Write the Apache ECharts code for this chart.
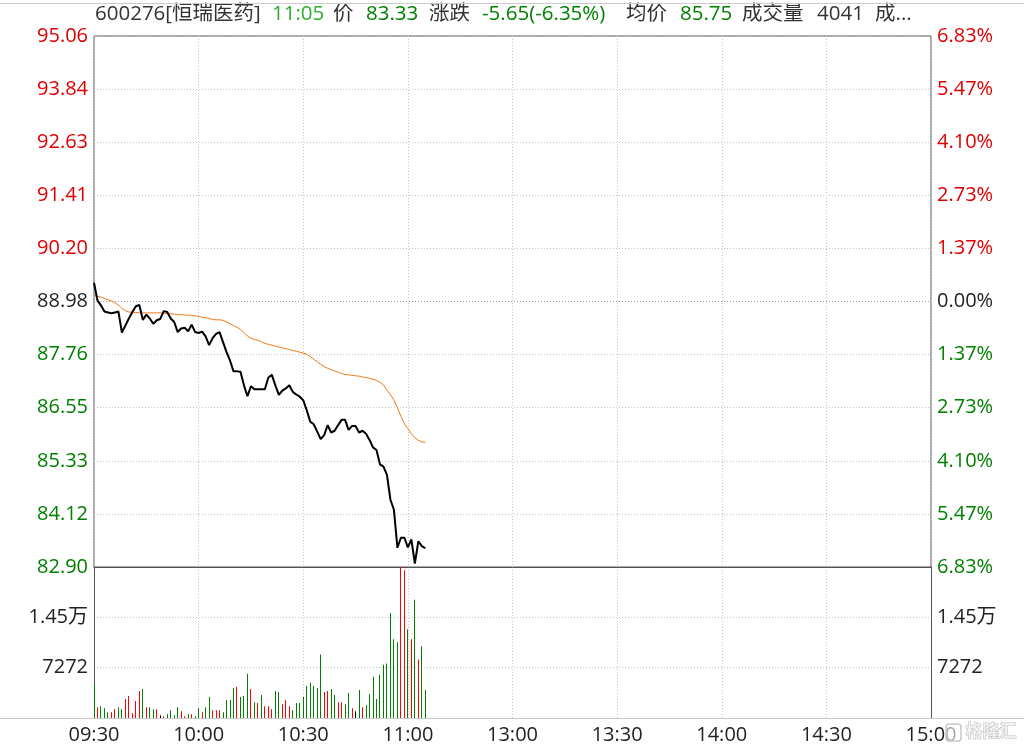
<!DOCTYPE html>
<html>
<head>
<meta charset="utf-8">
<script src="https://cdn.jsdelivr.net/npm/echarts@6/dist/echarts.min.js"></script>
<style>
html,body{margin:0;padding:0;background:#fff;}
#chart{width:1024px;height:748px;}
</style>
</head>
<body>
<div id="chart"></div>
<script>
// ---- data ----
const baseClose = 88.98;
const priceMin = 82.90;
const priceMax = 95.06;
const priceStep = 1.216;
const priceLabels = ['82.90','84.12','85.33','86.55','87.76','88.98','90.20','91.41','92.63','93.84','95.06'];
const pctLabels = ['6.83%','5.47%','4.10%','2.73%','1.37%','0.00%','1.37%','2.73%','4.10%','5.47%','6.83%'];
const volMax = 21816;
const volStep = 7272;
const volLabels = ['', '7272', '1.45万', ''];
const xTickLabels = ['09:30','10:00','10:30','11:00','13:00','13:30','14:00','14:30','15:00'];

const prices = [
 89.41,89.00,88.89,88.75,88.73,88.71,88.73,88.75,88.27,88.43,
 88.59,88.74,88.87,88.90,88.56,88.68,88.59,88.47,88.55,88.58,
 88.76,88.74,88.59,88.51,88.28,88.36,88.38,88.30,88.45,88.28,
 88.26,88.29,88.18,87.98,88.14,88.24,88.28,88.05,87.82,87.63,
 87.38,87.38,87.37,87.06,86.81,87.04,86.97,86.97,86.97,86.97,
 87.24,87.30,87.06,86.84,86.94,86.99,87.06,86.91,86.85,86.80,
 86.72,86.49,86.23,86.17,86.00,85.83,85.92,86.15,85.98,86.02,
 86.15,86.27,86.27,86.04,86.13,86.13,85.98,86.02,85.95,85.81,
 85.64,85.58,85.25,85.20,85.01,84.44,84.21,83.34,83.57,83.57,
 83.35,83.53,82.98,83.49,83.38,83.33
];
const avgPrices = [
 89.12,89.10,89.08,89.05,89.02,88.99,88.95,88.90,88.82,88.77,
 88.74,88.73,88.73,88.72,88.72,88.72,88.72,88.72,88.72,88.72,
 88.71,88.70,88.70,88.69,88.68,88.68,88.67,88.67,88.66,88.65,
 88.64,88.62,88.61,88.59,88.57,88.56,88.56,88.55,88.51,88.47,
 88.43,88.39,88.34,88.27,88.19,88.14,88.11,88.09,88.06,88.02,
 88.00,87.98,87.96,87.94,87.92,87.90,87.88,87.86,87.84,87.82,
 87.80,87.77,87.72,87.66,87.60,87.54,87.49,87.45,87.42,87.39,
 87.36,87.33,87.31,87.30,87.29,87.28,87.27,87.25,87.24,87.22,
 87.20,87.17,87.13,87.07,86.95,86.85,86.72,86.55,86.35,86.18,
 86.07,85.95,85.86,85.80,85.77,85.75
];
const volumes = [
 4780,1560,1710,1415,830,830,1270,1560,1270,2730,
 3170,680,2440,3900,4200,1560,1560,1270,1270,390,
 240,540,1120,390,1560,980,240,540,540,240,
 1415,830,1560,3030,1120,1120,1120,830,2590,2590,
 4340,4490,3030,3170,6390,4200,2290,2150,3320,1710,
 1710,1270,3900,3760,2000,2590,1710,1120,2150,2150,
 3030,4640,5080,4640,4340,9170,3760,3900,4200,3320,
 2290,2290,2000,3610,1415,980,4050,1560,1850,3460,
 5950,2730,6250,7710,7860,15180,11370,10930,21800,21330,
 12830,11370,17080,8440,10350,4041
];
// 1 = up (red), -1 = down (green), 0 = flat
const volDirs = [
 -1,1,-1,-1,-1,1,1,-1,-1,1,
 1,1,1,1,-1,1,-1,-1,1,0,
 1,-1,-1,-1,-1,1,1,-1,1,-1,
 -1,1,-1,-1,1,1,1,-1,-1,-1,
 -1,1,-1,-1,-1,1,-1,1,-1,1,
 1,1,-1,-1,1,1,1,-1,-1,-1,
 -1,-1,-1,-1,-1,-1,1,1,-1,-1,
 1,1,-1,-1,1,0,-1,1,-1,-1,
 -1,-1,-1,-1,-1,-1,-1,-1,1,1,
 -1,1,-1,1,-1,-1
];

// minute categories: 09:30..11:30 (=13:00) then 13:01..15:00
const categories = [];
function pad(n){return (n<10?'0':'')+n;}
for (let m = 9*60+30; m <= 11*60+30; m++) categories.push(pad(Math.floor(m/60))+':'+pad(m%60));
for (let m = 13*60+1; m <= 15*60; m++) categories.push(pad(Math.floor(m/60))+':'+pad(m%60));

const RED = '#e00000', GREEN = '#008000', DARK = '#222222';
const FONT = '"Open Sans", "Noto Sans CJK SC", sans-serif';
const CJK = '"Noto Sans CJK SC", sans-serif';
const FS = 20;

function tickIdx(v){ return Math.round((v - priceMin)/priceStep); }
function priceColor(v){
  const i = tickIdx(typeof v === 'string' ? parseFloat(v) : v);
  return i > 5 ? RED : (i < 5 ? GREEN : DARK);
}

const chart = echarts.init(document.getElementById('chart'), null, {renderer:'canvas'});

const gridLineColor = '#c4c4c4';
const splitColors = [];
for (let i = 0; i <= 10; i++) splitColors.push(i === 5 ? '#9a9a9a' : gridLineColor);

const header = [
  {x:95, t:'600276[恒瑞医药]', c:'#333333'},
  {x:272, t:'11:05', c:'#2fae2f'},
  {x:333, t:'价', c:'#333333'},
  {x:366, t:'83.33', c:GREEN},
  {x:429, t:'涨跌', c:'#333333'},
  {x:482, t:'-5.65(-6.35%)', c:GREEN},
  {x:626, t:'均价', c:'#333333'},
  {x:680, t:'85.75', c:GREEN},
  {x:742, t:'成交量', c:'#333333'},
  {x:817, t:'4041', c:'#333333'},
  {x:875, t:'成...', c:'#333333'}
];

const graphics = header.map(h => ({
  type:'text', left:h.x, top:4, silent:true,
  style:{text:h.t, fill:h.c, font:'20.5px '+FONT}
}));
graphics.push({type:'line', silent:true, shape:{x1:0,y1:3.5,x2:1024,y2:3.5}, style:{stroke:'#cccccc', lineWidth:1}});
graphics.push({type:'line', silent:true, z:10, shape:{x1:0,y1:718.5,x2:1024,y2:718.5}, style:{stroke:'#c8c8c8', lineWidth:1}});
// watermark
graphics.push({type:'rect', silent:true, z:20, shape:{x:946,y:724,width:15,height:17,r:3}, style:{fill:'rgba(255,255,255,0.6)', stroke:'#c8c8c8', lineWidth:1.5}});
graphics.push({type:'text', silent:true, z:20, left:965, top:722, style:{text:'格隆汇', fill:'rgba(245,245,245,0.8)', stroke:'#c0c0c0', lineWidth:1, font:'bold 17px '+CJK}});

function renderVolBar(params, api){
  const idx = api.value(0);
  const v = api.value(1);
  const top = api.coord([idx, v]);
  const bottom = api.coord([idx, 0]);
  const x = Math.round(top[0] - 0.5);
  const d = volDirs[params.dataIndex];
  return {
    type:'rect',
    shape:{x:x, y:top[1], width:1, height:bottom[1]-top[1]},
    style:{fill: d > 0 ? '#ff0000' : (d < 0 ? GREEN : '#000000')}
  };
}

const option = {
  animation:false,
  backgroundColor:'#ffffff',
  textStyle:{fontFamily:FONT},
  graphic: graphics,
  grid:[
    {left:94, right:93, top:36, height:531, show:true, borderColor:'#555555', borderWidth:1},
    {left:94, right:93, top:567, height:151}
  ],
  xAxis:[
    {type:'category', gridIndex:0, data:categories, boundaryGap:false,
     axisLine:{show:true, lineStyle:{color:'#555555', width:1}}, axisTick:{show:false}, axisLabel:{show:false},
     splitLine:{show:true, interval:29, lineStyle:{color:gridLineColor, type:[1,2]}}},
    {type:'category', gridIndex:1, data:categories, boundaryGap:false,
     axisLine:{show:false}, axisTick:{show:false},
     axisLabel:{show:true, interval:29, color:'#222222', fontSize:FS, fontFamily:FONT, margin:7,
       formatter:function(v, idx){ return (idx % 30 === 0) ? xTickLabels[idx/30] : ''; }},
     splitLine:{show:true, interval:29, lineStyle:{color:gridLineColor, type:[1,2]}}}
  ],
  yAxis:[
    {type:'value', gridIndex:0, min:priceMin, max:priceMax, interval:priceStep, position:'left',
     axisLine:{show:false}, axisTick:{show:false},
     axisLabel:{fontSize:FS, fontFamily:FONT, margin:6,
       formatter:function(v){ return priceLabels[tickIdx(v)] || ''; },
       color:function(v){ return priceColor(v); }},
     splitLine:{show:true, lineStyle:{color:splitColors, type:[1,2]}}},
    {type:'value', gridIndex:0, min:priceMin, max:priceMax, interval:priceStep, position:'right',
     axisLine:{show:false}, axisTick:{show:false},
     axisLabel:{fontSize:FS, fontFamily:FONT, margin:6,
       formatter:function(v){ return pctLabels[tickIdx(v)] || ''; },
       color:function(v){ return priceColor(v); }},
     splitLine:{show:false}},
    {type:'value', gridIndex:1, min:0, max:volMax, interval:volStep, position:'left',
     axisLine:{show:true, lineStyle:{color:'#555555'}}, axisTick:{show:false},
     axisLabel:{fontSize:FS, fontFamily:FONT, margin:6, color:'#222222',
       formatter:function(v){ return volLabels[Math.round(v/volStep)] || ''; }},
     splitLine:{show:true, lineStyle:{color:gridLineColor, type:[1,2]}}},
    {type:'value', gridIndex:1, min:0, max:volMax, interval:volStep, position:'right',
     axisLine:{show:true, lineStyle:{color:'#555555'}}, axisTick:{show:false},
     axisLabel:{fontSize:FS, fontFamily:FONT, margin:6, color:'#222222',
       formatter:function(v){ return volLabels[Math.round(v/volStep)] || ''; }},
     splitLine:{show:false}}
  ],
  series:[
    {name:'均价', type:'line', xAxisIndex:0, yAxisIndex:0, data:avgPrices, symbol:'none', z:3,
     lineStyle:{color:'#f07a14', width:1}},
    {name:'价', type:'line', xAxisIndex:0, yAxisIndex:0, data:prices, symbol:'none', z:4,
     lineStyle:{color:'#000000', width:2}},
    {name:'成交量', type:'custom', xAxisIndex:1, yAxisIndex:2, z:2,
     data: volumes.map((v, i) => [i, v]),
     encode:{x:0, y:1},
     renderItem: renderVolBar}
  ]
};
chart.setOption(option);
</script>
</body>
</html>
